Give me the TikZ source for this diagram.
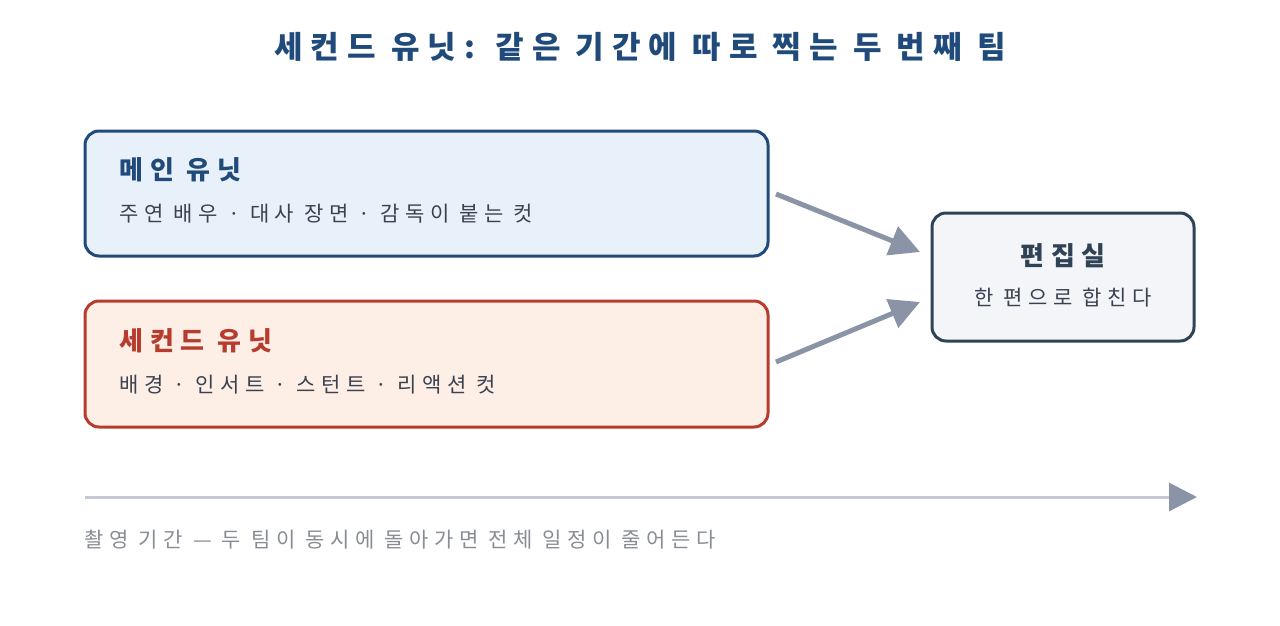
\documentclass[tikz,border=0pt]{standalone}
\usepackage{fontspec}
\setmainfont[LetterSpace=26]{Noto Sans CJK KR}
\usetikzlibrary{arrows.meta}
\definecolor{tblue}{HTML}{1F4A7A}
\definecolor{fblue}{HTML}{E8F0F9}
\definecolor{tred}{HTML}{B83C2E}
\definecolor{fred}{HTML}{FDEEE6}
\definecolor{tslate}{HTML}{2F4256}
\definecolor{fslate}{HTML}{F3F5F8}
\definecolor{agray}{HTML}{8A94A6}
\definecolor{lgray}{HTML}{C5C9D6}
\definecolor{txt}{HTML}{3A4250}
\definecolor{cap}{HTML}{888C94}
\begin{document}
\begin{tikzpicture}[x=1pt,y=-1pt,
  box/.style={rounded corners=14pt,line width=3pt},
  head/.style={anchor=west,font=\fontsize{26}{30}\selectfont\bfseries},
  sub/.style={anchor=west,font=\fontsize{21}{25}\selectfont,text=txt},
  arr/.style={draw=agray,line width=5pt,-{Triangle[length=30pt,width=30pt]}}]
\useasboundingbox (0,0) rectangle (1280,626);
\node[font=\fontsize{31}{36}\selectfont\bfseries,text=tblue] (title) at (640,47) {세컨드 유닛: 같은 기간에 따로 찍는 두 번째 팀};
\draw[box,draw=tblue,fill=fblue] (85,131) rectangle (768,256);
\node[head,text=tblue] (m1) at (116,170) {메인 유닛};
\node[sub] (m2) at (116,214) {주연 배우 · 대사 장면 · 감독이 붙는 컷};
\draw[box,draw=tred,fill=fred] (85,301) rectangle (768,427);
\node[head,text=tred] (s1) at (116,341) {세컨드 유닛};
\node[sub] (s2) at (116,385) {배경 · 인서트 · 스턴트 · 리액션 컷};
\draw[box,draw=tslate,fill=fslate] (932,213) rectangle (1194,341);
\node[font=\fontsize{26}{30}\selectfont\bfseries,text=tslate] (e1) at (1063,256) {편집실};
\node[font=\fontsize{21}{25}\selectfont,text=txt] (e2) at (1063,298) {한 편으로 합친다};
\coordinate (a1s) at (776,194); \coordinate (a1e) at (920,252);
\coordinate (a2s) at (776,362); \coordinate (a2e) at (920,302);
\draw[arr] (a1s) -- (a1e);
\draw[arr] (a2s) -- (a2e);
\coordinate (ts) at (85,497); \coordinate (te) at (1197,497);
\draw[draw=lgray,line width=3pt,-{Triangle[length=28pt,width=28pt,color=agray]}] (ts) -- (te);
\node[anchor=west,font=\fontsize{21}{25}\selectfont,text=cap] (c) at (81,540) {촬영 기간 — 두 팀이 동시에 돌아가면 전체 일정이 줄어든다};
\end{tikzpicture}
\end{document}
